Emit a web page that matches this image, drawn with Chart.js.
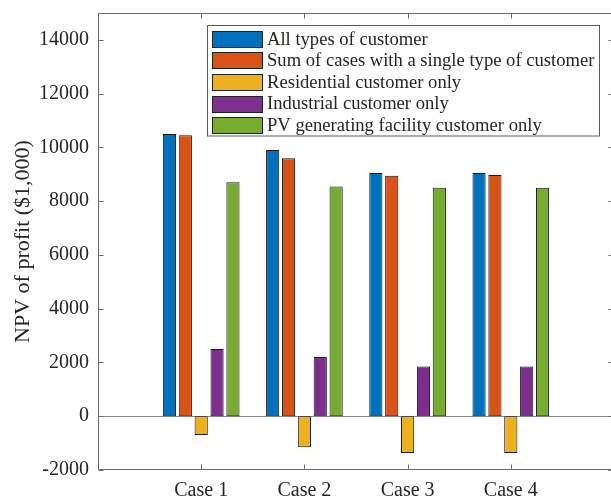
<!DOCTYPE html>
<html>
<head>
<meta charset="utf-8">
<script src="https://cdn.jsdelivr.net/npm/chart.js@4.4.1/dist/chart.umd.min.js"></script>
<style>
  html, body { margin: 0; padding: 0; background: #fff; }
  #frame { width: 611px; height: 496px; overflow: hidden; }
  #wrap { width: 616px; height: 496px; position: relative; }
</style>
</head>
<body>
<div id="frame"><div id="wrap"><canvas id="npvChart"></canvas></div></div>
<script>
// --- data ---
const categories = ['Case 1', 'Case 2', 'Case 3', 'Case 4'];
const allTypes = [10500, 9900, 9050, 9050];
const sumSingle = [10450, 9600, 8950, 8970];
const residential = [-700, -1150, -1370, -1370];
const industrial = [2500, 2200, 1850, 1850];
const pvFacility = [8700, 8550, 8500, 8500];
const yTicks = [-2000, 0, 2000, 4000, 6000, 8000, 10000, 12000, 14000];

const seriesNames = [
    'All types of customer',
    'Sum of cases with a single type of customer',
    'Residential customer only',
    'Industrial customer only',
    'PV generating facility customer only'
];
const seriesColors = ['#0072BD', '#D95319', '#EDB120', '#7E2F8E', '#77AC30'];
const seriesValues = [allTypes, sumSingle, residential, industrial, pvFacility];

const serif = "'Liberation Serif', 'Times New Roman', serif";
const axisColor = '#6b6b6b';
const textColor = '#262626';

// x positions 1..4 on a 0..5 axis
const toPoints = vals => vals.map((v, i) => ({ x: i + 1, y: v }));

// axes box, inward tick marks and zero baseline
const boxPlugin = {
    id: 'boxPlugin',
    beforeDatasetsDraw(chart) {
        const { ctx, chartArea: a, scales: { y } } = chart;
        const y0 = Math.round(y.getPixelForValue(0)) + 0.5;
        ctx.save();
        ctx.strokeStyle = '#8a8a8a';
        ctx.lineWidth = 1;
        ctx.beginPath();
        ctx.moveTo(a.left, y0);
        ctx.lineTo(a.right, y0);
        ctx.stroke();
        ctx.restore();
    },
    afterDatasetsDraw(chart) {
        const { ctx, chartArea: a, scales: { x, y } } = chart;
        const L = Math.round(a.left) + 0.5, R = Math.round(a.right) - 0.5;
        const T = Math.round(a.top) + 0.5, B = Math.round(a.bottom) - 0.5;
        const tk = 5;
        ctx.save();
        ctx.strokeStyle = axisColor;
        ctx.lineWidth = 1;
        ctx.beginPath();
        ctx.rect(L, T, R - L, B - T);
        y.ticks.forEach(t => {
            const py = Math.round(y.getPixelForValue(t.value)) + 0.5;
            ctx.moveTo(L, py); ctx.lineTo(L + tk, py);
            ctx.moveTo(R, py); ctx.lineTo(R - tk, py);
        });
        x.ticks.forEach(t => {
            const px = Math.round(x.getPixelForValue(t.value)) + 0.5;
            ctx.moveTo(px, B); ctx.lineTo(px, B - tk);
            ctx.moveTo(px, T); ctx.lineTo(px, T + tk);
        });
        ctx.stroke();
        ctx.restore();
    },
    afterDraw(chart) {
        // boxed legend in the upper right of the plot
        const { ctx, data } = chart;
        const bx = 207.5, by = 25.5, bw = 392, bh = 110.5;
        const rowH = 21.6, firstRow = 38.7;
        ctx.save();
        ctx.fillStyle = '#fff';
        ctx.fillRect(bx, by, bw, bh);
        ctx.strokeStyle = '#5a5a5a';
        ctx.lineWidth = 1;
        ctx.strokeRect(bx, by, bw, bh);
        ctx.font = '18.6px ' + serif;
        ctx.textBaseline = 'middle';
        ctx.textAlign = 'left';
        data.datasets.forEach((ds, i) => {
            const cy = firstRow + i * rowH;
            const sy = Math.round(cy - 8) + 0.5;
            ctx.fillStyle = ds.backgroundColor;
            ctx.fillRect(212.5, sy, 50, 16);
            ctx.strokeStyle = '#222';
            ctx.strokeRect(212.5, sy, 50, 16);
            ctx.fillStyle = textColor;
            ctx.fillText(ds.label, 267, cy + 1);
        });
        ctx.restore();
    }
};

new Chart(document.getElementById('npvChart'), {
    type: 'bar',
    data: {
        datasets: seriesNames.map((name, i) => ({
            label: name,
            data: toPoints(seriesValues[i]),
            backgroundColor: seriesColors[i],
            borderColor: '#1a1a1a',
            borderWidth: 1,
            borderSkipped: false,
            categoryPercentage: 0.769,
            barPercentage: 0.83
        }))
    },
    options: {
        responsive: true,
        maintainAspectRatio: false,
        animation: false,
        layout: { padding: { top: 13, right: 2, left: 0, bottom: 0 } },
        plugins: {
            legend: { display: false },
            tooltip: { enabled: false }
        },
        scales: {
            x: {
                type: 'linear',
                min: 0,
                max: 5,
                offset: false,
                grid: { display: false, offset: false },
                border: { display: false },
                afterBuildTicks: s => { s.ticks = categories.map((c, i) => ({ value: i + 1 })); },
                afterFit: s => { s.height = 26; s.paddingLeft = 0; s.paddingRight = 0; },
                ticks: {
                    padding: 1,
                    color: textColor,
                    font: { family: serif, size: 20 },
                    callback: v => categories[v - 1]
                }
            },
            y: {
                min: -2000,
                max: 15000,
                grid: { display: false },
                border: { display: false },
                afterBuildTicks: s => { s.ticks = yTicks.map(v => ({ value: v })); },
                afterFit: s => { s.width = 98; s.paddingTop = 0; s.paddingBottom = 0; },
                ticks: {
                    padding: 1,
                    color: textColor,
                    font: { family: serif, size: 20 },
                    callback: v => String(v)
                },
                title: {
                    display: true,
                    text: 'NPV of profit ($1,000)',
                    color: textColor,
                    font: { family: serif, size: 22 },
                    padding: { top: 10, bottom: 0 }
                }
            }
        }
    },
    plugins: [boxPlugin]
});
</script>
</body>
</html>
